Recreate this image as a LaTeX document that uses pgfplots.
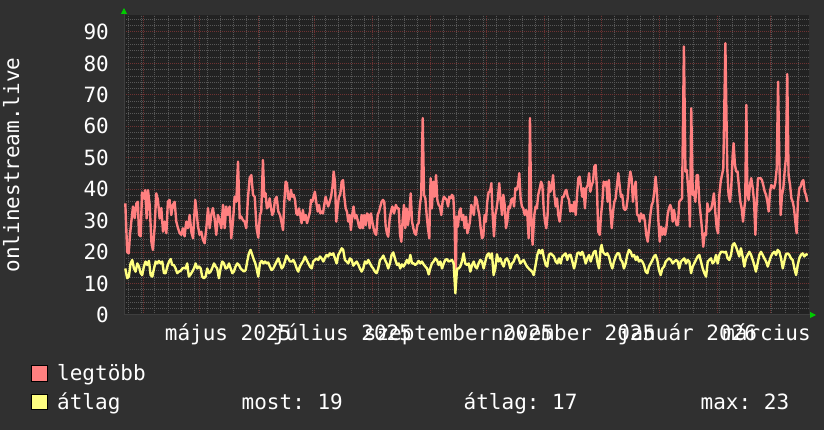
\documentclass[border=0pt]{standalone}
\usepackage{pgfplots}
\pgfplotsset{compat=1.18}
\usepackage{pgfplotstable}
\usepackage{fontspec}
\setmainfont{DejaVu Sans Mono}
\usetikzlibrary{arrows.meta}
\frenchspacing

\definecolor{canvasbg}{HTML}{303030}
\definecolor{plotbg}{HTML}{222222}
\definecolor{gridmin}{HTML}{575757}
\definecolor{gridmaj}{HTML}{6E3232}
\definecolor{axisln}{HTML}{3E3E3E}
\definecolor{arrowgr}{HTML}{00CC00}
\definecolor{maxred}{HTML}{FF8080}
\definecolor{avgyel}{HTML}{FFFF80}
\newcommand{\rrdfont}{\fontsize{21bp}{25bp}\selectfont}

% x = days since 1 May 2025
\pgfplotstableread{
day val
-39.8 35.5
-38.8 20.0
-38.0 19.6
-37.3 25.5
-36.6 29.7
-35.7 34.5
-34.8 30.8
-33.9 35.5
-33.1 36.0
-32.5 25.5
-31.6 25.0
-30.9 39.0
-29.9 37.0
-29.2 39.7
-28.4 30.7
-27.7 39.7
-26.8 35.0
-25.9 23.3
-25.1 20.7
-24.2 27.6
-23.3 38.7
-22.4 36.6
-21.5 30.7
-20.6 34.0
-19.7 26.5
-18.8 29.7
-17.9 26.0
-17.1 36.0
-16.2 36.6
-15.3 31.8
-14.4 35.0
-13.5 36.0
-12.6 29.7
-11.7 27.6
-10.8 26.0
-9.9 25.5
-9.1 27.6
-8.2 25.0
-7.3 29.7
-6.4 27.6
-5.5 31.8
-4.6 26.5
-3.7 24.4
-2.5 36.6
-1.8 32.9
-1.1 28.4
-0.2 25.5
0.7 26.5
1.6 23.9
2.5 22.8
3.4 27.6
4.3 34.0
5.2 27.6
6.0 31.8
6.9 34.0
7.8 30.7
8.7 25.5
9.6 31.8
10.5 30.2
11.4 27.6
12.3 35.0
13.2 27.6
14.0 34.5
14.9 31.8
15.8 34.5
16.7 24.4
17.6 29.7
18.5 37.6
19.4 36.0
20.3 48.8
21.2 30.7
22.0 31.3
22.9 30.2
23.8 29.7
24.7 27.6
25.6 37.1
26.5 43.5
27.4 44.5
28.3 38.2
29.2 37.6
30.2 27.6
31.1 24.6
32.0 31.8
32.7 32.9
33.6 49.3
34.3 37.6
35.0 38.7
35.7 33.9
36.4 34.5
37.2 37.1
37.9 33.9
38.6 31.8
39.3 32.9
40.0 36.6
40.9 37.6
41.8 32.9
42.7 31.8
43.6 29.2
44.3 27.0
45.0 36.0
45.7 42.4
46.4 41.9
47.1 37.1
47.8 36.6
48.5 39.8
49.2 37.6
50.0 38.2
50.7 36.6
51.4 32.3
52.1 31.8
52.8 33.9
53.5 31.8
54.2 29.2
54.9 33.4
55.6 30.2
56.4 31.8
57.1 29.2
57.8 30.7
58.7 32.9
59.2 36.6
59.9 36.0
60.6 37.6
61.3 39.2
62.0 36.0
62.8 32.9
63.5 35.0
64.2 32.3
64.9 32.9
65.6 32.3
66.3 35.0
67.0 37.6
67.7 36.0
68.4 34.5
69.2 36.0
69.9 37.6
70.6 40.3
71.3 45.6
72.0 42.4
72.7 29.7
73.4 33.9
74.1 37.6
74.8 38.2
75.6 42.4
76.3 42.9
77.0 37.6
77.7 33.9
78.4 32.9
79.1 29.7
79.8 31.8
80.5 27.0
81.2 31.8
81.9 34.5
82.7 30.7
83.4 31.8
84.1 30.2
84.8 28.1
85.5 27.6
86.2 31.8
86.9 27.6
87.6 31.8
88.4 28.6
89.1 32.3
89.8 31.8
90.5 27.6
91.2 32.3
91.9 29.7
92.6 27.6
93.3 26.0
94.0 25.5
94.8 31.8
95.5 32.9
96.2 34.5
96.9 36.0
97.6 36.6
98.3 36.0
99.0 28.6
99.7 26.0
100.4 24.9
101.2 30.7
101.9 32.9
102.6 34.5
103.5 32.3
104.5 35.0
105.2 33.9
106.0 33.9
106.7 25.5
107.4 23.3
108.1 30.2
108.8 35.0
109.5 27.6
110.2 33.9
110.9 28.6
111.6 31.8
112.4 38.7
113.1 29.7
113.8 27.6
114.5 26.0
115.2 25.5
115.9 28.6
116.6 29.2
117.3 35.0
118.0 38.2
118.8 62.6
119.5 38.2
120.2 37.1
120.9 31.8
121.6 27.6
122.3 24.4
123.0 43.5
123.7 33.9
124.4 42.4
125.2 37.6
125.9 44.5
126.6 36.6
127.3 35.0
128.0 34.5
128.7 31.8
129.4 36.0
130.1 37.6
130.8 37.1
131.6 36.6
132.3 34.5
133.0 37.6
133.7 37.1
134.4 38.2
135.1 37.6
135.8 29.7
136.4 10.0
136.9 31.3
137.6 28.1
138.3 32.9
139.0 33.9
139.7 30.2
140.4 31.8
141.2 27.6
141.9 31.3
142.6 26.0
143.3 27.6
144.0 29.7
144.7 35.0
145.4 33.4
146.1 31.8
146.8 37.6
147.6 36.6
148.3 33.9
149.0 31.8
149.7 27.6
150.4 24.4
151.1 25.0
151.8 31.8
152.5 29.7
153.2 36.0
154.0 39.2
154.7 39.2
155.4 41.9
156.1 31.8
156.8 25.0
157.5 31.8
158.2 33.9
158.9 37.1
159.6 41.9
160.4 36.0
161.1 31.8
161.8 38.2
162.5 35.0
163.2 27.6
163.9 29.7
164.6 34.5
165.3 33.9
166.0 36.6
166.8 37.1
167.5 34.5
168.2 40.3
168.9 39.8
169.6 41.3
170.3 45.1
171.0 37.1
171.7 34.5
172.4 33.9
173.2 31.8
173.9 33.4
174.6 31.8
175.3 24.4
176.0 62.6
176.7 30.7
177.4 22.3
178.3 31.8
179.0 34.5
179.7 33.9
180.4 38.2
181.2 40.3
181.9 42.4
182.6 41.3
183.3 33.9
184.0 29.7
184.7 27.6
185.4 31.8
186.1 42.4
186.8 39.2
187.6 40.3
188.3 44.5
189.0 38.2
189.7 34.5
190.4 37.1
191.1 31.8
191.8 29.7
192.5 33.4
193.2 37.6
194.0 37.6
194.7 39.2
195.4 39.8
196.1 37.6
196.8 36.6
197.5 32.9
198.2 35.0
198.9 32.9
199.6 36.0
200.4 31.8
201.1 38.2
201.8 43.5
202.5 44.0
203.2 40.8
203.9 37.6
204.6 40.3
205.3 33.9
206.0 40.3
206.8 41.3
207.5 45.1
208.2 39.2
208.9 41.3
209.6 42.4
210.3 47.2
211.0 47.7
211.7 40.3
212.4 26.5
213.2 25.5
213.9 31.8
214.6 36.0
215.3 42.4
216.0 41.3
216.7 42.4
217.4 36.0
218.1 42.9
218.8 33.9
219.6 27.6
220.3 32.9
221.0 36.0
221.7 37.1
222.4 41.3
223.1 45.1
223.8 41.3
224.5 37.6
225.2 38.2
226.0 33.9
226.7 33.4
227.4 33.9
228.1 37.1
228.8 42.4
229.5 45.6
230.2 43.5
230.9 36.0
231.6 40.3
232.4 42.4
233.1 31.8
233.8 31.8
234.5 29.7
235.2 32.3
235.9 30.7
236.6 31.8
237.3 29.7
238.0 25.5
238.8 23.3
239.5 27.6
240.2 31.8
240.9 35.0
241.6 36.0
242.3 39.2
243.0 44.0
243.7 39.2
244.4 30.7
245.2 23.3
245.9 28.1
246.6 25.5
247.3 27.6
248.0 25.5
248.7 27.6
249.4 31.8
250.1 33.9
250.8 35.0
251.4 33.9
252.1 29.7
252.8 33.4
253.5 30.7
254.2 28.6
254.9 28.6
255.6 36.0
256.4 36.6
257.1 37.1
258.1 85.4
258.9 45.6
259.6 46.1
260.6 38.2
261.3 28.1
262.0 65.7
262.8 38.2
263.5 39.2
264.2 36.0
264.9 44.5
265.6 44.5
266.3 36.0
267.0 31.8
267.7 27.6
268.4 21.7
269.2 26.0
269.9 25.5
270.6 35.5
271.3 32.9
272.0 33.4
272.7 33.9
273.4 36.0
274.1 38.7
274.8 32.9
275.6 27.6
276.3 26.0
277.0 38.2
277.7 42.4
278.4 44.5
279.1 46.7
280.2 86.4
281.2 46.7
281.9 38.2
282.7 36.0
283.4 41.3
284.1 50.9
284.6 54.6
285.3 47.7
286.0 45.6
286.7 45.6
287.5 40.3
288.2 36.0
288.9 33.9
289.6 29.7
290.3 33.9
290.8 36.6
291.4 66.8
291.9 39.2
292.6 36.6
293.3 41.3
294.0 43.5
294.8 40.3
295.5 36.0
296.2 25.5
296.9 36.0
297.6 43.5
298.3 43.5
299.0 43.5
299.7 42.9
300.4 41.3
301.2 39.2
301.9 38.2
302.6 36.0
303.3 32.9
304.0 39.2
304.7 41.3
305.4 40.8
306.1 40.3
306.8 41.9
307.6 46.7
308.3 74.2
309.0 48.8
309.7 31.8
310.4 38.2
311.1 40.3
311.8 45.6
312.5 50.0
313.2 76.6
313.9 44.5
314.7 41.3
315.4 37.1
316.1 36.0
316.8 33.9
317.5 29.7
318.2 26.0
318.9 36.0
319.6 40.3
320.3 40.8
321.1 42.4
321.8 42.9
322.5 39.2
323.2 38.2
323.9 36.0
}\maxtbl

\pgfplotstableread{
day val
-39.8 14.8
-38.8 11.7
-37.9 12.2
-37.0 16.4
-36.1 17.5
-35.2 14.8
-34.3 13.8
-33.4 16.4
-32.5 15.4
-31.6 13.3
-30.8 12.7
-29.9 15.4
-29.0 17.0
-28.1 15.9
-27.2 17.2
-26.3 12.7
-25.4 12.2
-24.5 14.8
-23.6 17.0
-22.8 16.4
-21.9 17.2
-21.0 16.4
-20.1 17.0
-19.2 13.3
-18.3 13.3
-17.4 15.4
-16.5 17.0
-15.6 17.8
-14.8 15.9
-13.9 15.9
-13.0 14.8
-12.1 13.3
-11.2 13.8
-10.3 14.0
-9.4 14.8
-8.5 15.0
-7.6 14.8
-6.8 16.4
-5.9 12.2
-5.0 12.9
-4.1 13.8
-3.2 14.8
-2.3 16.4
-1.4 14.8
-0.5 15.4
0.4 14.8
1.2 12.2
2.1 11.7
3.0 12.2
3.9 14.8
4.8 13.3
5.7 13.8
6.6 15.0
7.5 16.4
8.4 15.4
9.2 14.8
10.1 11.7
11.0 14.8
11.9 17.0
12.8 16.4
13.7 14.8
14.6 15.0
15.5 16.4
16.4 14.8
17.3 13.3
18.1 13.8
19.0 15.4
19.9 16.4
20.8 15.9
21.7 14.8
22.6 14.3
23.5 13.8
24.4 14.3
25.2 17.0
26.1 19.6
27.0 20.7
27.9 19.1
28.8 17.5
29.5 16.5
30.2 14.8
31.1 12.2
32.0 16.4
32.9 17.2
33.8 16.4
34.7 17.0
35.6 16.4
36.4 16.7
37.3 15.4
38.2 14.3
39.1 14.8
40.0 15.9
40.9 17.0
41.8 18.0
42.7 16.4
43.6 14.8
44.4 15.4
45.3 17.0
46.2 18.9
47.1 18.0
48.0 17.0
48.9 17.0
49.8 17.5
50.7 16.4
51.6 14.8
52.4 13.8
53.3 15.4
54.2 16.4
55.1 17.2
56.0 18.6
56.9 17.5
57.8 16.4
58.7 15.4
59.6 14.8
60.4 17.0
61.3 17.5
62.2 18.0
63.1 17.5
64.0 18.6
64.9 18.0
65.8 17.0
66.7 18.2
67.5 19.1
68.4 18.6
69.3 19.6
70.2 19.1
71.1 19.6
72.0 18.0
72.9 16.4
73.8 19.1
74.7 20.1
75.6 21.2
76.4 20.7
77.3 17.5
78.2 17.0
79.1 16.4
80.0 18.0
80.9 17.5
81.8 15.7
82.7 16.4
83.6 17.0
84.4 16.1
85.3 14.8
86.2 13.8
87.1 14.8
88.0 17.0
88.9 16.4
89.8 17.5
90.7 16.4
91.6 15.4
92.4 14.8
93.3 13.8
94.2 13.3
95.1 14.8
96.0 17.5
96.9 18.0
97.8 18.9
98.7 17.5
99.6 16.4
100.4 14.8
101.3 16.4
102.2 19.1
103.1 19.9
104.2 17.5
105.1 15.9
106.0 16.4
106.8 14.8
107.7 16.1
108.6 15.4
109.5 16.4
110.4 17.5
111.3 16.4
112.2 19.1
113.1 16.4
114.0 16.4
114.8 15.9
115.7 16.4
116.6 17.2
117.5 16.4
118.4 17.0
119.3 16.1
120.2 15.4
121.1 14.8
122.0 12.9
122.8 14.8
123.7 16.4
124.6 17.0
125.5 18.0
126.4 17.5
127.3 15.9
128.2 17.0
129.1 14.8
130.0 16.4
130.8 17.5
131.7 17.8
132.6 17.0
133.5 17.2
134.4 17.5
135.3 16.4
136.2 6.9
137.1 14.8
138.0 14.8
138.8 15.4
139.7 17.0
140.6 19.6
141.5 16.4
142.4 15.9
143.3 16.4
144.2 13.8
145.1 15.9
146.0 17.0
146.8 15.4
147.7 14.8
148.6 16.4
149.5 17.5
150.4 17.0
151.3 14.8
152.2 17.0
153.1 19.1
154.0 19.6
154.8 18.0
155.7 19.6
156.6 12.7
157.5 14.8
158.4 19.3
159.3 17.0
160.2 18.0
161.1 16.4
162.0 15.4
162.8 17.5
163.7 18.0
164.6 17.0
165.5 14.8
166.4 16.4
167.3 17.0
168.2 18.6
169.1 19.1
170.0 18.0
170.8 16.4
171.7 17.0
172.6 17.5
173.5 16.4
174.4 15.4
175.3 14.8
176.2 14.3
177.1 13.8
178.0 12.7
179.0 15.9
179.9 19.1
180.8 20.7
181.7 19.6
182.6 20.7
183.5 18.0
184.4 15.9
185.2 15.4
186.1 19.1
187.0 19.6
187.9 19.1
188.8 18.6
189.7 17.0
190.6 16.4
191.5 18.0
192.4 16.4
193.2 18.6
194.1 19.1
195.0 19.6
195.9 17.5
196.8 19.1
197.7 19.1
198.6 17.0
199.5 14.8
200.4 17.0
201.2 19.6
202.1 19.9
203.0 19.1
203.9 20.1
204.8 18.6
205.7 16.4
206.6 18.0
207.5 19.1
208.4 17.0
209.2 18.6
210.1 20.1
211.0 20.4
211.9 17.0
212.8 14.8
213.7 21.2
214.2 22.3
214.9 20.1
215.5 19.6
216.4 19.1
217.2 19.6
218.1 18.6
219.0 16.4
219.9 14.8
220.8 17.0
221.7 18.6
222.6 19.6
223.5 19.6
224.4 17.5
225.2 17.0
226.1 14.8
227.0 16.4
227.9 19.1
228.8 20.7
229.7 20.1
230.6 18.6
231.5 19.1
232.4 17.5
233.2 18.6
234.1 17.0
235.0 17.5
235.9 17.0
236.8 15.9
237.7 13.8
238.6 13.3
239.5 15.4
240.4 16.4
241.3 17.5
242.1 18.6
243.0 19.1
243.9 17.5
244.8 14.3
245.7 12.7
246.6 14.8
247.5 15.4
248.4 17.0
249.2 17.5
250.1 18.0
251.2 17.5
252.1 16.4
253.0 17.0
253.9 17.5
254.8 17.0
255.6 14.8
256.5 17.0
257.4 17.5
258.3 18.0
259.2 16.4
260.1 17.5
261.0 17.0
261.9 13.3
262.8 15.4
263.6 16.4
264.5 17.5
265.4 18.6
266.3 19.1
267.2 17.0
268.1 14.8
269.0 13.3
269.9 12.2
270.8 17.0
271.6 17.5
272.5 18.0
273.4 16.4
274.3 17.0
275.2 19.1
276.1 16.4
277.0 19.1
277.9 20.1
278.8 20.1
279.6 19.9
280.5 20.1
281.4 18.0
282.3 17.5
283.2 19.1
284.1 22.3
285.0 22.8
285.9 21.7
286.8 20.1
287.6 18.6
288.5 21.2
289.4 18.6
290.3 15.4
291.2 18.0
292.1 19.1
293.0 20.1
293.9 19.1
294.8 17.5
295.6 15.9
296.5 13.8
297.4 16.4
298.3 19.1
299.2 20.1
300.1 19.1
301.0 18.0
301.9 17.0
302.8 15.4
303.6 17.0
304.5 18.6
305.4 19.6
306.3 20.1
307.2 19.1
308.1 20.7
309.0 20.1
309.9 18.0
310.8 14.8
311.6 17.0
312.5 19.3
313.4 19.6
314.3 19.1
315.2 18.0
316.1 17.5
317.0 14.8
317.9 12.7
318.8 15.9
319.6 18.0
320.5 19.1
321.4 19.6
322.3 18.6
323.2 19.3
324.1 19.1
}\avgtbl

\begin{document}
\begin{tikzpicture}
\fill[canvasbg] (0,0) rectangle (824bp,430bp);
\begin{axis}[
  at={(124bp,115bp)}, anchor=south west,
  scale only axis, width=685bp, height=300bp,
  xmin=-40.5, xmax=324.8, ymin=0, ymax=95.4,
  axis background/.style={fill=plotbg},
  axis x line=bottom, axis y line=left,
  axis line style={draw=axisln, line width=1bp, shorten >=-7bp,
    -{Triangle[color=arrowgr,fill=arrowgr,length=6bp,width=6bp]}},
  grid=both,
  major grid style={draw=gridmaj, line width=1bp, dash pattern=on 1bp off 1bp},
  minor grid style={draw=gridmin, line width=1bp, dash pattern=on 1bp off 1bp},
  major tick length=0pt, minor tick length=0pt,
  xtick={-30,0,31,61,92,123,153,184,214,245,276,304},
  xticklabels={},
  minor xtick={-38,-31,...,319},
  ytick={0,10,...,90},
  minor ytick={0,2,...,94},
  /pgf/number format/assume math mode=true,
  tick label style={font=\rrdfont, text=white},
  yticklabel style={anchor=east, inner sep=0pt, xshift=-15bp},
  extra x ticks={15,76,138,199,260,319},
  extra x tick labels={május 2025,július 2025,szeptember 2025,november 2025,január 2026,március 2026},
  extra x tick style={grid=none,
    xticklabel style={anchor=base, inner sep=0pt, yshift=-26bp}},
]
\addplot[maxred, line width=2.4bp, line join=round] table[x=day, y=val] {\maxtbl};
\addplot[avgyel, line width=2.4bp, line join=round] table[x=day, y=val] {\avgtbl};
\end{axis}

\node[rotate=90, anchor=base, inner sep=0pt, text=white, font=\rrdfont] at (19bp,265bp) {onlinestream.live};

\filldraw[fill=maxred, draw=black, line width=1bp] (31.5bp,48.8bp) rectangle (47.2bp,64.5bp);
\filldraw[fill=avgyel, draw=black, line width=1bp] (31.5bp,20.5bp) rectangle (47.2bp,35.8bp);
\begin{scope}[every node/.style={anchor=base west, inner sep=0pt, text=white, font=\rrdfont}]
\node at (57bp,49bp) {legtöbb};
\node at (57bp,20.7bp) {átlag};
\node at (241.5bp,20.7bp) {most: 19};
\node at (463.5bp,20.7bp) {átlag: 17};
\node at (700.5bp,20.7bp) {max: 23};
\end{scope}

\pgfresetboundingbox
\useasboundingbox (0,0) rectangle (824bp,430bp);
\end{tikzpicture}
\end{document}
